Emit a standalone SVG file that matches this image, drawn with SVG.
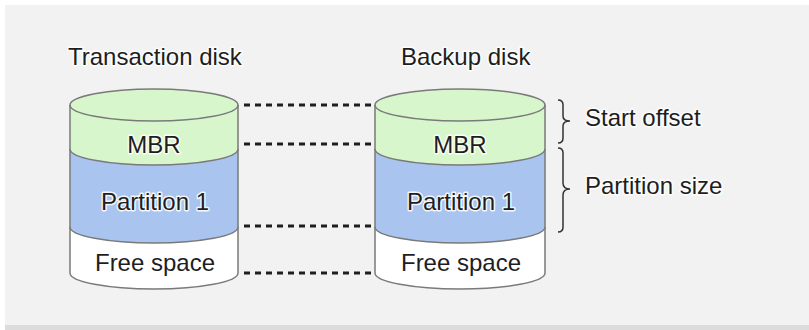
<svg xmlns="http://www.w3.org/2000/svg" width="809" height="330" viewBox="0 0 809 330">
<style>
.t{font-family:"Liberation Sans",Arial,sans-serif;font-size:24px;fill:#1e1e1e;stroke:#ffffff;stroke-width:3px;stroke-opacity:0.85;paint-order:stroke;stroke-linejoin:round}
.c{text-anchor:middle}
.ol{fill:none;stroke:#7a7a7a;stroke-width:1.5}
.g{fill:#d8f6cc}
.b{fill:#a9c4ee}
.w{fill:#ffffff}
.dot{stroke:#1e1e1e;stroke-width:3;stroke-dasharray:6 5;fill:none}
.br{fill:none;stroke:#333;stroke-width:1.5}
</style>
<rect x="0" y="0" width="809" height="330" fill="#ffffff"/>
<rect x="5" y="325" width="804" height="5" fill="#dcdcdc"/>
<rect x="5" y="5" width="804" height="320" fill="#f2f2f2"/>

<text class="t" x="68" y="65">Transaction disk</text>
<text class="t" x="401" y="65">Backup disk</text>

<g id="transaction-disk">
<path class="w" d="M70,227 A84,16 0 0 0 238,227 V273 A84,16 0 0 1 70,273 Z"/>
<path class="b" d="M70,149 A84,16 0 0 0 238,149 V227 A84,16 0 0 1 70,227 Z"/>
<path class="g" d="M70,105 V149 A84,16 0 0 0 238,149 V105 Z"/>
<ellipse class="g" cx="154" cy="105" rx="84" ry="16"/>
<ellipse class="ol" cx="154" cy="105" rx="84" ry="16"/>
<path class="ol" d="M70,105 V273 A84,16 0 0 0 238,273 V105"/>
<path class="ol" d="M70,149 A84,16 0 0 0 238,149"/>
<path class="ol" d="M70,227 A84,16 0 0 0 238,227"/>
<text class="t c" x="154" y="153">MBR</text>
<text class="t c" x="155" y="210">Partition 1</text>
<text class="t c" x="155" y="271">Free space</text>
</g>

<g id="backup-disk">
<path class="w" d="M375,227 A85,16 0 0 0 545,227 V273 A85,16 0 0 1 375,273 Z"/>
<path class="b" d="M375,149 A85,16 0 0 0 545,149 V227 A85,16 0 0 1 375,227 Z"/>
<path class="g" d="M375,105 V149 A85,16 0 0 0 545,149 V105 Z"/>
<ellipse class="g" cx="460" cy="105" rx="85" ry="16"/>
<ellipse class="ol" cx="460" cy="105" rx="85" ry="16"/>
<path class="ol" d="M375,105 V273 A85,16 0 0 0 545,273 V105"/>
<path class="ol" d="M375,149 A85,16 0 0 0 545,149"/>
<path class="ol" d="M375,227 A85,16 0 0 0 545,227"/>
<text class="t c" x="460" y="153">MBR</text>
<text class="t c" x="461" y="210">Partition 1</text>
<text class="t c" x="461" y="271">Free space</text>
</g>

<g id="connectors">
<line class="dot" x1="244" y1="105" x2="375" y2="105"/>
<line class="dot" x1="244" y1="144" x2="375" y2="144"/>
<line class="dot" x1="244" y1="226" x2="375" y2="226"/>
<line class="dot" x1="244" y1="273" x2="375" y2="273"/>
</g>

<g id="start-offset">
<path class="br" d="M558,100 Q563,100 563,105 V116 Q563,121 570,121 Q563,121 563,126 V138 Q563,143 558,143"/>
<text class="t" x="585" y="126">Start offset</text>
</g>
<g id="partition-size">
<path class="br" d="M558,148 Q563,148 563,153 V183 Q563,189 570,189 Q563,189 563,195 V227 Q563,232 558,232"/>
<text class="t" x="585" y="194">Partition size</text>
</g>
</svg>
